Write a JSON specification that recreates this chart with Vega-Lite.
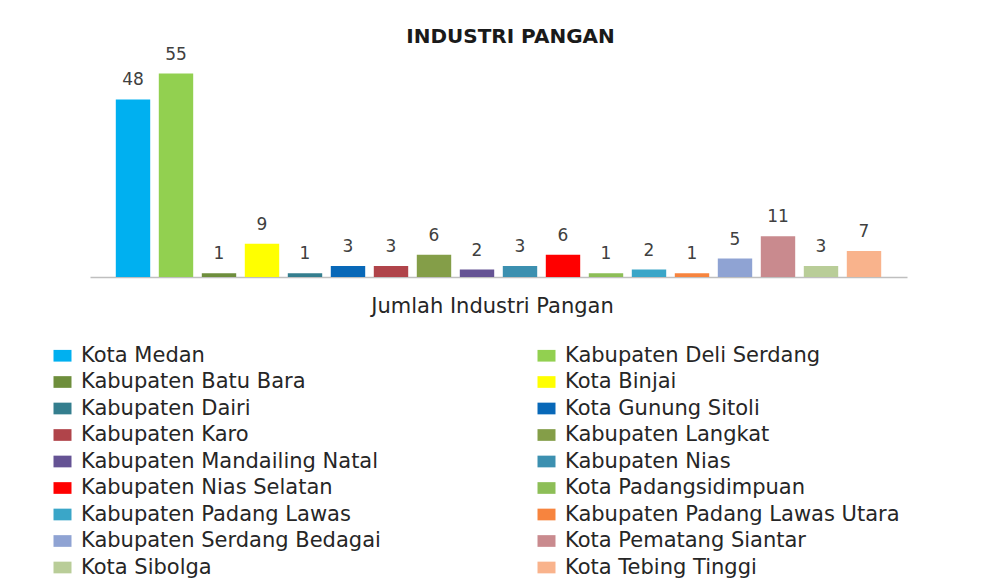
{
  "$schema": "https://vega.github.io/schema/vega-lite/v6.json",
  "autosize": "none",
  "width": 817,
  "height": 222,
  "padding": {"left": 90, "top": 55, "right": 99, "bottom": 311},
  "background": "white",
  "title": {
    "text": "INDUSTRI PANGAN",
    "font": "DejaVu Sans",
    "fontSize": 20,
    "fontWeight": "bold",
    "color": "#1a1a1a",
    "anchor": "middle",
    "offset": 8,
    "dx": 12,
    "dy": 9
  },
  "data": {
    "values": [
      {"daerah": "Kota Medan", "jumlah": 48},
      {"daerah": "Kabupaten Deli Serdang", "jumlah": 55},
      {"daerah": "Kabupaten Batu Bara", "jumlah": 1},
      {"daerah": "Kota Binjai", "jumlah": 9},
      {"daerah": "Kabupaten Dairi", "jumlah": 1},
      {"daerah": "Kota Gunung Sitoli", "jumlah": 3},
      {"daerah": "Kabupaten Karo", "jumlah": 3},
      {"daerah": "Kabupaten Langkat", "jumlah": 6},
      {"daerah": "Kabupaten Mandailing Natal", "jumlah": 2},
      {"daerah": "Kabupaten Nias", "jumlah": 3},
      {"daerah": "Kabupaten Nias Selatan", "jumlah": 6},
      {"daerah": "Kota Padangsidimpuan", "jumlah": 1},
      {"daerah": "Kabupaten Padang Lawas", "jumlah": 2},
      {"daerah": "Kabupaten Padang Lawas Utara", "jumlah": 1},
      {"daerah": "Kabupaten Serdang Bedagai", "jumlah": 5},
      {"daerah": "Kota Pematang Siantar", "jumlah": 11},
      {"daerah": "Kota Sibolga", "jumlah": 3},
      {"daerah": "Kota Tebing Tinggi", "jumlah": 7}
    ]
  },
  "encoding": {
    "x": {
      "field": "daerah",
      "type": "nominal",
      "sort": null,
      "scale": {"paddingInner": 0.2, "paddingOuter": 0.6},
      "axis": {
        "title": "Jumlah Industri Pangan",
        "titleFont": "DejaVu Sans",
        "titleFontSize": 21,
        "titleFontWeight": "normal",
        "titleColor": "#262626",
        "titlePadding": 18,
        "titleX": 402,
        "labels": false,
        "ticks": false,
        "domainColor": "#bfbfbf",
        "domainWidth": 1.5
      }
    },
    "y": {
      "field": "jumlah",
      "type": "quantitative",
      "scale": {"domain": [0, 60]},
      "axis": null
    }
  },
  "layer": [
    {
      "mark": {"type": "bar"},
      "encoding": {
        "color": {
          "field": "daerah",
          "type": "nominal",
          "scale": {
            "domain": ["Kota Medan", "Kabupaten Batu Bara", "Kabupaten Dairi", "Kabupaten Karo", "Kabupaten Mandailing Natal", "Kabupaten Nias Selatan", "Kabupaten Padang Lawas", "Kabupaten Serdang Bedagai", "Kota Sibolga", "Kabupaten Deli Serdang", "Kota Binjai", "Kota Gunung Sitoli", "Kabupaten Langkat", "Kabupaten Nias", "Kota Padangsidimpuan", "Kabupaten Padang Lawas Utara", "Kota Pematang Siantar", "Kota Tebing Tinggi"],
            "range": ["#00B0F0", "#6E8E3C", "#347E8E", "#B0444A", "#655394", "#FF0000", "#3AA6C8", "#8FA3D3", "#B9CD98", "#92D050", "#FFFF00", "#0868B8", "#849E48", "#3C90B0", "#8DBE57", "#F7843E", "#C98A8E", "#F9B38C"]
          },
          "legend": {
            "title": null,
            "orient": "none",
            "legendX": -38,
            "legendY": 290,
            "columns": 2,
            "columnPadding": 155,
            "rowPadding": 4.5,
            "symbolType": "M-1,-0.65H1V0.65H-1Z",
            "symbolSize": 324,
            "symbolStrokeWidth": 0,
            "labelOffset": 8,
            "labelFont": "DejaVu Sans",
            "labelFontSize": 21,
            "labelColor": "#262626",
            "labelLimit": 500
          }
        }
      }
    },
    {
      "mark": {
        "type": "text",
        "dy": -14,
        "baseline": "alphabetic",
        "font": "DejaVu Sans",
        "fontSize": 17,
        "color": "#404040"
      },
      "encoding": {
        "text": {"field": "jumlah", "type": "quantitative"}
      }
    }
  ],
  "config": {
    "view": {"stroke": null}
  }
}
